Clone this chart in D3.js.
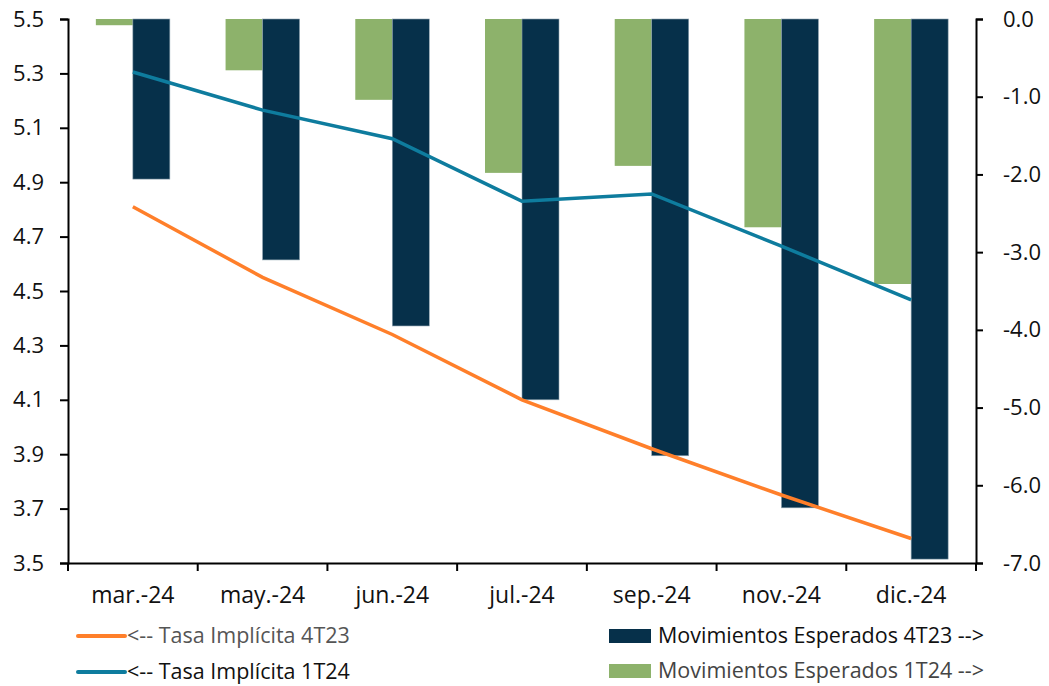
<!DOCTYPE html>
<html>
<head>
<meta charset="utf-8">
<script src="https://cdn.jsdelivr.net/npm/d3@7"></script>
<style>
  body { margin: 0; background: #fff; }
  svg { display: block; font-family: "Open Sans", "Noto Sans", sans-serif; }
</style>
</head>
<body>
<svg id="chart" width="1049" height="686"></svg>
<script>
// Data
const categories = ['mar.-24', 'may.-24', 'jun.-24', 'jul.-24', 'sep.-24', 'nov.-24', 'dic.-24'];
const tasa4T23 = [4.81, 4.55, 4.34, 4.10, 3.92, 3.75, 3.59];
const tasa1T24 = [5.305, 5.165, 5.06, 4.83, 4.857, 4.665, 4.467];
const mov4T23 = [-2.06, -3.10, -3.95, -4.90, -5.62, -6.29, -6.95];
const mov1T24 = [-0.08, -0.66, -1.04, -1.98, -1.89, -2.68, -3.41];
const leftTicks = [3.5, 3.7, 3.9, 4.1, 4.3, 4.5, 4.7, 4.9, 5.1, 5.3, 5.5];
const rightTicks = [0, -1, -2, -3, -4, -5, -6, -7];

const colors = {
  orange: '#FF7F2A',
  blue: '#0E7C9E',
  navy: '#06304A',
  green: '#8DB26B'
};

(function() {
  'use strict';

  const svg = d3.select('#chart');
  const m = { left: 68, right: 976, top: 19, bottom: 563 };

  const x = d3.scaleBand().domain(categories).range([m.left, m.right]).padding(0);
  const yL = d3.scaleLinear().domain([3.5, 5.5]).range([m.bottom, m.top]);
  const yR = d3.scaleLinear().domain([-7, 0]).range([m.bottom, m.top]);
  const barW = 37;
  const cx = i => x(categories[i]) + x.bandwidth() / 2;

  // Bars: green (1T24) left of center, navy (4T23) right of center
  svg.append('g').selectAll('rect')
    .data(mov1T24)
    .enter().append('rect')
    .attr('x', (d, i) => cx(i) - barW)
    .attr('y', yR(0))
    .attr('width', barW)
    .attr('height', d => yR(d) - yR(0))
    .attr('fill', colors.green);

  svg.append('g').selectAll('rect')
    .data(mov4T23)
    .enter().append('rect')
    .attr('x', (d, i) => cx(i))
    .attr('y', yR(0))
    .attr('width', barW)
    .attr('height', d => yR(d) - yR(0))
    .attr('fill', colors.navy)
    .attr('stroke', '#8fa3b0')
    .attr('stroke-width', 0.6);

  // Lines
  const line = d3.line()
    .x((d, i) => cx(i))
    .y(d => yL(d));

  svg.append('path').datum(tasa1T24)
    .attr('d', line).attr('fill', 'none')
    .attr('stroke', colors.blue).attr('stroke-width', 3.5);

  svg.append('path').datum(tasa4T23)
    .attr('d', line).attr('fill', 'none')
    .attr('stroke', colors.orange).attr('stroke-width', 3.5);

  // Axes (plain hyphen for negatives, like the original)
  const fmt = d => d3.format('.1f')(d).replace('\u2212', '-');
  const axL = svg.append('g').attr('transform', `translate(${m.left},0)`)
    .call(d3.axisLeft(yL).tickValues(leftTicks).tickFormat(fmt).tickSize(8).tickPadding(16));
  const axR = svg.append('g').attr('transform', `translate(${m.right},0)`)
    .call(d3.axisRight(yR).tickValues(rightTicks).tickFormat(fmt).tickSize(7).tickPadding(20));
  const axB = svg.append('g').attr('transform', `translate(0,${m.bottom})`)
    .call(d3.axisBottom(x).tickSize(0).tickPadding(24));

  [axL, axR, axB].forEach(a => {
    a.select('.domain').attr('stroke', '#000').attr('stroke-width', 2);
    a.selectAll('.tick line').attr('stroke', '#000').attr('stroke-width', 2);
    a.selectAll('.tick text').attr('font-size', 22).attr('fill', '#111')
      .attr('font-family', '"Open Sans", sans-serif');
  });
  axB.selectAll('.tick text').attr('font-size', 23);

  // category boundary ticks on bottom axis
  const bounds = categories.map(c => x(c)).concat([m.right]);
  svg.append('g').selectAll('line')
    .data(bounds)
    .enter().append('line')
    .attr('x1', d => d).attr('x2', d => d)
    .attr('y1', m.bottom).attr('y2', m.bottom + 8)
    .attr('stroke', '#000').attr('stroke-width', 2);

  // Legend
  const leg = svg.append('g').attr('font-size', 21.5);
  const lineItems = [
    { label: '<-- Tasa Implícita 4T23', color: colors.orange, y: 636, fill: '#555' },
    { label: '<-- Tasa Implícita 1T24', color: colors.blue, y: 672, fill: '#111' }
  ];
  lineItems.forEach(it => {
    leg.append('line').attr('x1', 78).attr('x2', 125).attr('y1', it.y).attr('y2', it.y)
      .attr('stroke', it.color).attr('stroke-width', 4).attr('stroke-linecap', 'round');
    leg.append('text').attr('x', 127).attr('y', it.y + 7).attr('fill', it.fill).text(it.label);
  });
  const barItems = [
    { label: 'Movimientos Esperados 4T23 -->', color: colors.navy, y: 636, fill: '#111' },
    { label: 'Movimientos Esperados 1T24 -->', color: colors.green, y: 671, fill: '#444' }
  ];
  barItems.forEach(it => {
    leg.append('rect').attr('x', 609).attr('y', it.y - 7).attr('width', 42).attr('height', 14)
      .attr('fill', it.color);
    leg.append('text').attr('x', 658).attr('y', it.y + 7).attr('fill', it.fill).text(it.label);
  });
})();
</script>
</body>
</html>
